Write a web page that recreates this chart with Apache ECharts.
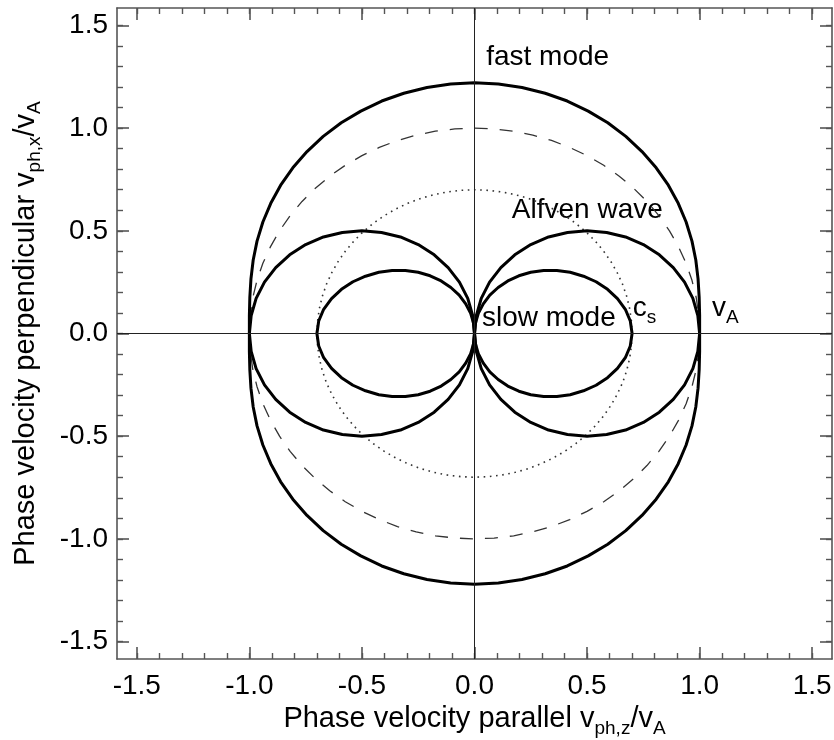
<!DOCTYPE html>
<html>
<head>
<meta charset="utf-8">
<script src="https://cdn.jsdelivr.net/npm/echarts@6/dist/echarts.min.js"></script>
<style>
html,body{margin:0;padding:0;background:#fff;}
#chart{width:834px;height:740px;}
</style>
</head>
<body>
<div id="chart"></div>
<script>
// ---- axis ranges and ticks ----
const xRange = [-1.588, 1.588];
const yRange = [-1.585, 1.585];
const majorTicks = [-1.5, -1.0, -0.5, 0.0, 0.5, 1.0, 1.5];
const minorTicks = [-1.5,-1.4,-1.3,-1.2,-1.1,-1.0,-0.9,-0.8,-0.7,-0.6,-0.5,-0.4,-0.3,-0.2,-0.1,0.0,
                    0.1,0.2,0.3,0.4,0.5,0.6,0.7,0.8,0.9,1.0,1.1,1.2,1.3,1.4,1.5];

// ---- curves, [v_parallel, v_perp] ----
const fastMode = [
  [1.000,0.000],[1.000,0.088],[0.998,0.176],[0.993,0.266],[0.983,0.358],[0.966,0.450],[0.940,0.543],[0.905,0.634],
  [0.861,0.722],[0.807,0.807],[0.744,0.886],[0.672,0.960],[0.592,1.026],[0.505,1.083],[0.412,1.132],[0.314,1.170],
  [0.211,1.198],[0.106,1.215],[0.000,1.221],
  [-0.106,1.215],[-0.211,1.198],[-0.314,1.170],[-0.412,1.132],[-0.505,1.083],[-0.592,1.026],[-0.672,0.960],
  [-0.744,0.886],[-0.807,0.807],[-0.861,0.722],[-0.905,0.634],[-0.940,0.543],[-0.966,0.450],[-0.983,0.358],
  [-0.993,0.266],[-0.998,0.176],[-1.000,0.088],[-1.000,0.000],
  [-1.000,-0.088],[-0.998,-0.176],[-0.993,-0.266],[-0.983,-0.358],[-0.966,-0.450],[-0.940,-0.543],[-0.905,-0.634],
  [-0.861,-0.722],[-0.807,-0.807],[-0.744,-0.886],[-0.672,-0.960],[-0.592,-1.026],[-0.505,-1.083],[-0.412,-1.132],
  [-0.314,-1.170],[-0.211,-1.198],[-0.106,-1.215],[0.000,-1.221],
  [0.106,-1.215],[0.211,-1.198],[0.314,-1.170],[0.412,-1.132],[0.505,-1.083],[0.592,-1.026],[0.672,-0.960],
  [0.744,-0.886],[0.807,-0.807],[0.861,-0.722],[0.905,-0.634],[0.940,-0.543],[0.966,-0.450],[0.983,-0.358],
  [0.993,-0.266],[0.998,-0.176],[1.000,-0.088],[1.000,0.000]
];
const slowRight = [
  [0.700,0.000],[0.692,0.061],[0.670,0.118],[0.635,0.170],[0.591,0.215],[0.540,0.252],[0.484,0.279],[0.425,0.298],
  [0.366,0.307],[0.307,0.307],[0.250,0.298],[0.197,0.281],[0.148,0.256],[0.105,0.224],[0.068,0.187],[0.039,0.144],
  [0.017,0.098],[0.004,0.050],[0.000,0.000],
  [0.004,-0.050],[0.017,-0.098],[0.039,-0.144],[0.068,-0.187],[0.105,-0.224],[0.148,-0.256],[0.197,-0.281],
  [0.250,-0.298],[0.307,-0.307],[0.366,-0.307],[0.425,-0.298],[0.484,-0.279],[0.540,-0.252],[0.591,-0.215],
  [0.635,-0.170],[0.670,-0.118],[0.692,-0.061],[0.700,0.000]
];
const slowLeft = [
  [-0.700,0.000],[-0.692,0.061],[-0.670,0.118],[-0.635,0.170],[-0.591,0.215],[-0.540,0.252],[-0.484,0.279],[-0.425,0.298],
  [-0.366,0.307],[-0.307,0.307],[-0.250,0.298],[-0.197,0.281],[-0.148,0.256],[-0.105,0.224],[-0.068,0.187],[-0.039,0.144],
  [-0.017,0.098],[-0.004,0.050],[0.000,0.000],
  [-0.004,-0.050],[-0.017,-0.098],[-0.039,-0.144],[-0.068,-0.187],[-0.105,-0.224],[-0.148,-0.256],[-0.197,-0.281],
  [-0.250,-0.298],[-0.307,-0.307],[-0.366,-0.307],[-0.425,-0.298],[-0.484,-0.279],[-0.540,-0.252],[-0.591,-0.215],
  [-0.635,-0.170],[-0.670,-0.118],[-0.692,-0.061],[-0.700,0.000]
];
const alfvenRight = [
  [1.000,0.000],[0.992,0.087],[0.970,0.171],[0.933,0.250],[0.883,0.321],[0.821,0.383],[0.750,0.433],[0.671,0.470],
  [0.587,0.492],[0.500,0.500],[0.413,0.492],[0.329,0.470],[0.250,0.433],[0.179,0.383],[0.117,0.321],[0.067,0.250],
  [0.030,0.171],[0.008,0.087],[0.000,0.000],
  [0.008,-0.087],[0.030,-0.171],[0.067,-0.250],[0.117,-0.321],[0.179,-0.383],[0.250,-0.433],[0.329,-0.470],
  [0.413,-0.492],[0.500,-0.500],[0.587,-0.492],[0.671,-0.470],[0.750,-0.433],[0.821,-0.383],[0.883,-0.321],
  [0.933,-0.250],[0.970,-0.171],[0.992,-0.087],[1.000,0.000]
];
const alfvenLeft = [
  [-1.000,0.000],[-0.992,0.087],[-0.970,0.171],[-0.933,0.250],[-0.883,0.321],[-0.821,0.383],[-0.750,0.433],[-0.671,0.470],
  [-0.587,0.492],[-0.500,0.500],[-0.413,0.492],[-0.329,0.470],[-0.250,0.433],[-0.179,0.383],[-0.117,0.321],[-0.067,0.250],
  [-0.030,0.171],[-0.008,0.087],[0.000,0.000],
  [-0.008,-0.087],[-0.030,-0.171],[-0.067,-0.250],[-0.117,-0.321],[-0.179,-0.383],[-0.250,-0.433],[-0.329,-0.470],
  [-0.413,-0.492],[-0.500,-0.500],[-0.587,-0.492],[-0.671,-0.470],[-0.750,-0.433],[-0.821,-0.383],[-0.883,-0.321],
  [-0.933,-0.250],[-0.970,-0.171],[-0.992,-0.087],[-1.000,0.000]
];
const vACircle = [
  [1.000,0.000],[0.996,0.087],[0.985,0.174],[0.966,0.259],[0.940,0.342],[0.906,0.423],[0.866,0.500],[0.819,0.574],
  [0.766,0.643],[0.707,0.707],[0.643,0.766],[0.574,0.819],[0.500,0.866],[0.423,0.906],[0.342,0.940],[0.259,0.966],
  [0.174,0.985],[0.087,0.996],[0.000,1.000],
  [-0.087,0.996],[-0.174,0.985],[-0.259,0.966],[-0.342,0.940],[-0.423,0.906],[-0.500,0.866],[-0.574,0.819],
  [-0.643,0.766],[-0.707,0.707],[-0.766,0.643],[-0.819,0.574],[-0.866,0.500],[-0.906,0.423],[-0.940,0.342],
  [-0.966,0.259],[-0.985,0.174],[-0.996,0.087],[-1.000,0.000],
  [-0.996,-0.087],[-0.985,-0.174],[-0.966,-0.259],[-0.940,-0.342],[-0.906,-0.423],[-0.866,-0.500],[-0.819,-0.574],
  [-0.766,-0.643],[-0.707,-0.707],[-0.643,-0.766],[-0.574,-0.819],[-0.500,-0.866],[-0.423,-0.906],[-0.342,-0.940],
  [-0.259,-0.966],[-0.174,-0.985],[-0.087,-0.996],[0.000,-1.000],
  [0.087,-0.996],[0.174,-0.985],[0.259,-0.966],[0.342,-0.940],[0.423,-0.906],[0.500,-0.866],[0.574,-0.819],
  [0.643,-0.766],[0.707,-0.707],[0.766,-0.643],[0.819,-0.574],[0.866,-0.500],[0.906,-0.423],[0.940,-0.342],
  [0.966,-0.259],[0.985,-0.174],[0.996,-0.087],[1.000,0.000]
];
const csCircle = [
  [0.700,0.000],[0.697,0.061],[0.689,0.122],[0.676,0.181],[0.658,0.239],[0.634,0.296],[0.606,0.350],[0.573,0.402],
  [0.536,0.450],[0.495,0.495],[0.450,0.536],[0.402,0.573],[0.350,0.606],[0.296,0.634],[0.239,0.658],[0.181,0.676],
  [0.122,0.689],[0.061,0.697],[0.000,0.700],
  [-0.061,0.697],[-0.122,0.689],[-0.181,0.676],[-0.239,0.658],[-0.296,0.634],[-0.350,0.606],[-0.402,0.573],
  [-0.450,0.536],[-0.495,0.495],[-0.536,0.450],[-0.573,0.402],[-0.606,0.350],[-0.634,0.296],[-0.658,0.239],
  [-0.676,0.181],[-0.689,0.122],[-0.697,0.061],[-0.700,0.000],
  [-0.697,-0.061],[-0.689,-0.122],[-0.676,-0.181],[-0.658,-0.239],[-0.634,-0.296],[-0.606,-0.350],[-0.573,-0.402],
  [-0.536,-0.450],[-0.495,-0.495],[-0.450,-0.536],[-0.402,-0.573],[-0.350,-0.606],[-0.296,-0.634],[-0.239,-0.658],
  [-0.181,-0.676],[-0.122,-0.689],[-0.061,-0.697],[0.000,-0.700],
  [0.061,-0.697],[0.122,-0.689],[0.181,-0.676],[0.239,-0.658],[0.296,-0.634],[0.350,-0.606],[0.402,-0.573],
  [0.450,-0.536],[0.495,-0.495],[0.536,-0.450],[0.573,-0.402],[0.606,-0.350],[0.634,-0.296],[0.658,-0.239],
  [0.676,-0.181],[0.689,-0.122],[0.697,-0.061],[0.700,0.000]
];

// ---- annotation texts and their anchor points ----
const noteTexts = ['fast mode', 'Alfven wave', 'slow mode', '{m|c}{s|s}', '{m|v}{s|A}'];
const noteAnchors = [[0.052,1.343],[0.166,0.598],[0.033,0.073],[0.703,0.112],[1.055,0.112]];

const FONT = '"Liberation Sans", Arial, Helvetica, sans-serif';
const AX = '#555';
const TICKFONT = 28;

function majorX(pos, labels) {
  return {
    type:'value', position:pos, min:xRange[0], max:xRange[1], gridIndex:0,
    axisLine:{show:true, onZero:false, lineStyle:{color:AX, width:1.6}},
    axisTick:{show:true, inside:true, length:12, customValues:majorTicks, lineStyle:{color:AX, width:1.6}},
    axisLabel:{show:labels, customValues:majorTicks, formatter:v=>v.toFixed(1), fontSize:TICKFONT, color:'#000', fontFamily:FONT, margin:13},
    splitLine:{show:false}
  };
}
function minorX(pos) {
  return {
    type:'value', position:pos, min:xRange[0], max:xRange[1], gridIndex:0,
    axisLine:{show:false, onZero:false},
    axisTick:{show:true, inside:true, length:6, customValues:minorTicks, lineStyle:{color:AX, width:1.4}},
    axisLabel:{show:false}, splitLine:{show:false}
  };
}
function majorY(pos, labels) {
  return {
    type:'value', position:pos, min:yRange[0], max:yRange[1], gridIndex:0,
    axisLine:{show:true, onZero:false, lineStyle:{color:AX, width:1.6}},
    axisTick:{show:true, inside:true, length:12, customValues:majorTicks, lineStyle:{color:AX, width:1.6}},
    axisLabel:{show:labels, customValues:majorTicks, formatter:v=>v.toFixed(1), fontSize:TICKFONT, color:'#000', fontFamily:FONT, margin:9},
    splitLine:{show:false}
  };
}
function minorY(pos) {
  return {
    type:'value', position:pos, min:yRange[0], max:yRange[1], gridIndex:0,
    axisLine:{show:false, onZero:false},
    axisTick:{show:true, inside:true, length:6, customValues:minorTicks, lineStyle:{color:AX, width:1.4}},
    axisLabel:{show:false}, splitLine:{show:false}
  };
}

const titleRich = {
  m:{fontSize:29, fontFamily:FONT, color:'#000', lineHeight:33, verticalAlign:'top'},
  s:{fontSize:19, fontFamily:FONT, color:'#000', lineHeight:33, verticalAlign:'bottom'}
};

const xMain = majorX('bottom', true);
xMain.name = '{m|Phase velocity parallel v}{s|ph,z}{m|/v}{s|A}';
xMain.nameLocation = 'middle';
xMain.nameGap = 45;
xMain.nameTextStyle = {rich:titleRich};

const yMain = majorY('left', true);
yMain.name = '{m|Phase velocity perpendicular v}{s|ph,x}{m|/v}{s|A}';
yMain.nameLocation = 'middle';
yMain.nameGap = 73;
yMain.nameTextStyle = {rich:titleRich};

function curve(data, color, width, dash) {
  return {
    type:'line', data:data, xAxisIndex:0, yAxisIndex:0, showSymbol:false, symbol:'none',
    smooth:false, silent:true, animation:false,
    lineStyle:{color:color, width:width, type:dash || 'solid', cap:'butt', join:'round'}
  };
}

const series = [
  curve(vACircle, '#333', 1.3, [13, 12]),
  curve(csCircle, '#333', 1.6, [1.6, 4.6]),
  curve(fastMode, '#000', 3),
  curve(alfvenRight, '#000', 3),
  curve(alfvenLeft, '#000', 3),
  curve(slowRight, '#000', 3),
  curve(slowLeft, '#000', 3),
  {
    type:'scatter', xAxisIndex:0, yAxisIndex:0, symbolSize:0, silent:true, animation:false,
    itemStyle:{opacity:1},
    data: noteAnchors.map((p,i)=>({value:p, name:noteTexts[i]})),
    label:{show:true, position:'right', distance:0, formatter:p=>p.name, fontSize:28, color:'#000', fontFamily:FONT,
      textBorderWidth:0, opacity:1,
      rich:{
        m:{fontSize:28, fontFamily:FONT, color:'#000', lineHeight:33, verticalAlign:'top'},
        s:{fontSize:19, fontFamily:FONT, color:'#000', lineHeight:33, verticalAlign:'bottom'}
      }},
    markLine:{silent:true, symbol:'none', animation:false, label:{show:false},
      lineStyle:{color:'#222', width:1, type:'solid'},
      data:[{xAxis:0},{yAxis:0}]}
  }
];

const chart = echarts.init(document.getElementById('chart'), null, {renderer:'canvas'});
chart.setOption({
  animation:false,
  backgroundColor:'#fff',
  grid:{left:117, right:2, top:8, bottom:81, containLabel:false, outerBoundsMode:'none'},
  xAxis:[xMain, minorX('bottom'), majorX('top', false), minorX('top')],
  yAxis:[yMain, minorY('left'), majorY('right', false), minorY('right')],
  series:series
});
</script>
</body>
</html>
